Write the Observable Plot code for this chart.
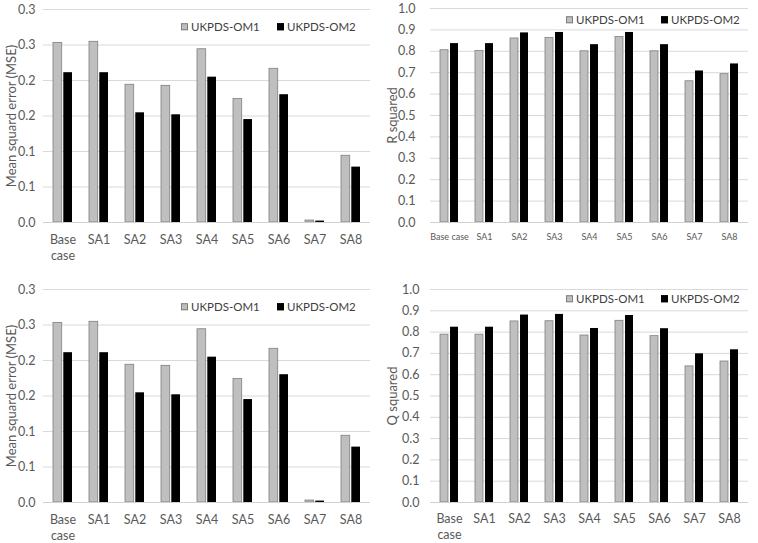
<!DOCTYPE html>
<html><head><meta charset="utf-8">
<script src="https://cdn.jsdelivr.net/npm/d3@7"></script>
<script src="https://cdn.jsdelivr.net/npm/@observablehq/plot@0.6"></script>
<style>
body{margin:0;background:#fff;}
#wrap{position:relative;width:758px;height:543px;font-family:Lato,sans-serif;overflow:hidden;}
.panel{position:absolute;}
.lg{position:absolute;display:flex;align-items:center;font-size:11.5px;color:#404040;white-space:nowrap;line-height:1;transform:translateY(-50%);}
.sw{display:inline-block;width:7px;height:7px;margin-right:3px;box-sizing:border-box;}
</style></head><body><div id="wrap"></div>
<script>
const categories = ["Base case","SA1","SA2","SA3","SA4","SA5","SA6","SA7","SA8"];
const seriesNames = ["UKPDS-OM1","UKPDS-OM2"];
const mseOM1 = [0.253,0.2545,0.194,0.1925,0.244,0.174,0.2165,0.0028,0.094];
const mseOM2 = [0.211,0.211,0.1545,0.1517,0.2047,0.145,0.18,0.002,0.078];
const r2OM1 = [0.805,0.802,0.860,0.862,0.800,0.867,0.800,0.660,0.693];
const r2OM2 = [0.836,0.836,0.886,0.888,0.831,0.888,0.831,0.708,0.741];
const q2OM1 = [0.788,0.788,0.850,0.851,0.784,0.853,0.781,0.639,0.662];
const q2OM2 = [0.823,0.823,0.880,0.883,0.817,0.878,0.816,0.698,0.717];
const mseTicks = [0,0.05,0.1,0.15,0.2,0.25,0.3];
const mseTickLabels = ["0.0","0.1","0.1","0.2","0.2","0.3","0.3"];
const sqTicks = [0,0.1,0.2,0.3,0.4,0.5,0.6,0.7,0.8,0.9,1.0];
const sqTickLabels = ["0.0","0.1","0.2","0.3","0.4","0.5","0.6","0.7","0.8","0.9","1.0"];

const wrap = document.getElementById("wrap");
const TXT = "#595959";
const FONT = "Lato, sans-serif";

function panel(o) {
  const rows = categories.map((c, i) => ({cat: c, om1: o.a[i], om2: o.b[i]}));
  const pw = o.width - o.ml - o.mr;
  const step = pw / categories.length;
  const band = step * 0.525;
  const gap = 1.5;
  const barW = (band - gap) / 2;
  const chart = Plot.plot({
    width: o.width, height: o.height,
    marginTop: o.mt, marginBottom: o.mb, marginLeft: o.ml, marginRight: o.mr,
    style: {fontFamily: FONT, background: "transparent"},
    x: {domain: categories, paddingInner: 0.475, paddingOuter: 0.2375},
    y: {domain: [0, o.ticks[o.ticks.length - 1]]},
    marks: [
      Plot.ruleY(o.ticks.filter(t => t > 0), {stroke: "#d9d9d9", strokeWidth: 1}),
      Plot.barY(rows, {x: "cat", y: "om1", fill: "#bfbfbf", stroke: "#7f7f7f", strokeWidth: 0.8, insetRight: barW + gap}),
      Plot.barY(rows, {x: "cat", y: "om2", fill: "#000000", insetLeft: barW + gap}),
      Plot.ruleY([0], {stroke: "#d0d0d0", strokeWidth: 1}),
      Plot.axisY({ticks: o.ticks, tickFormat: d => o.labels[o.ticks.indexOf(d)], tickSize: 0, tickPadding: o.tp,
        fontSize: 12.5, color: TXT, label: o.ylabel, labelAnchor: "center", labelArrow: "none", labelOffset: o.lo}),
      Plot.axisX({tickSize: 0, tickPadding: o.xp, fontSize: o.xfs, color: TXT, label: null, lineHeight: 1.3,
        tickFormat: d => o.wrap ? d.replace(" ", "\n") : d})
    ]
  });
  chart.querySelectorAll("g[aria-label='y-axis label'] text").forEach(t => t.setAttribute("font-size", 13));
  const div = document.createElement("div");
  div.className = "panel";
  div.style.left = o.left + "px";
  div.style.top = o.top + "px";
  div.appendChild(chart);
  wrap.appendChild(div);
  const cols = ["#bfbfbf", "#000000"];
  const borders = ["#7f7f7f", "#000000"];
  seriesNames.forEach((s, i) => {
    const lg = document.createElement("div");
    lg.className = "lg";
    lg.style.left = o.leg[i] + "px";
    lg.style.top = o.legY + "px";
    const sw = document.createElement("span");
    sw.className = "sw";
    sw.style.background = cols[i];
    sw.style.border = "1px solid " + borders[i];
    lg.appendChild(sw);
    lg.appendChild(document.createTextNode(s));
    wrap.appendChild(lg);
  });
}

panel({left: 0, top: 0, width: 379, height: 270, mt: 9, mb: 48, ml: 43, mr: 9,
  a: mseOM1, b: mseOM2, ticks: mseTicks, labels: mseTickLabels, tp: 8, lo: 37,
  ylabel: "Mean squard error (MSE)", xfs: 12.5, xp: 10, wrap: true, leg: [181, 277], legY: 27});
panel({left: 379, top: 0, width: 379, height: 270, mt: 8, mb: 48, ml: 51, mr: 10,
  a: r2OM1, b: r2OM2, ticks: sqTicks, labels: sqTickLabels, tp: 15, lo: 43,
  ylabel: "R squared", xfs: 9, xp: 9, wrap: false, leg: [566, 661], legY: 20});
panel({left: 0, top: 270, width: 379, height: 273, mt: 19, mb: 41, ml: 43, mr: 9,
  a: mseOM1, b: mseOM2, ticks: mseTicks, labels: mseTickLabels, tp: 8, lo: 37,
  ylabel: "Mean squard error (MSE)", xfs: 12.5, xp: 10, wrap: true, leg: [181, 277], legY: 307});
panel({left: 379, top: 270, width: 379, height: 273, mt: 19, mb: 41, ml: 51, mr: 10,
  a: q2OM1, b: q2OM2, ticks: sqTicks, labels: sqTickLabels, tp: 11, lo: 43,
  ylabel: "Q squared", xfs: 12.5, xp: 9, wrap: true, leg: [566, 661], legY: 299});
</script>
</body></html>
